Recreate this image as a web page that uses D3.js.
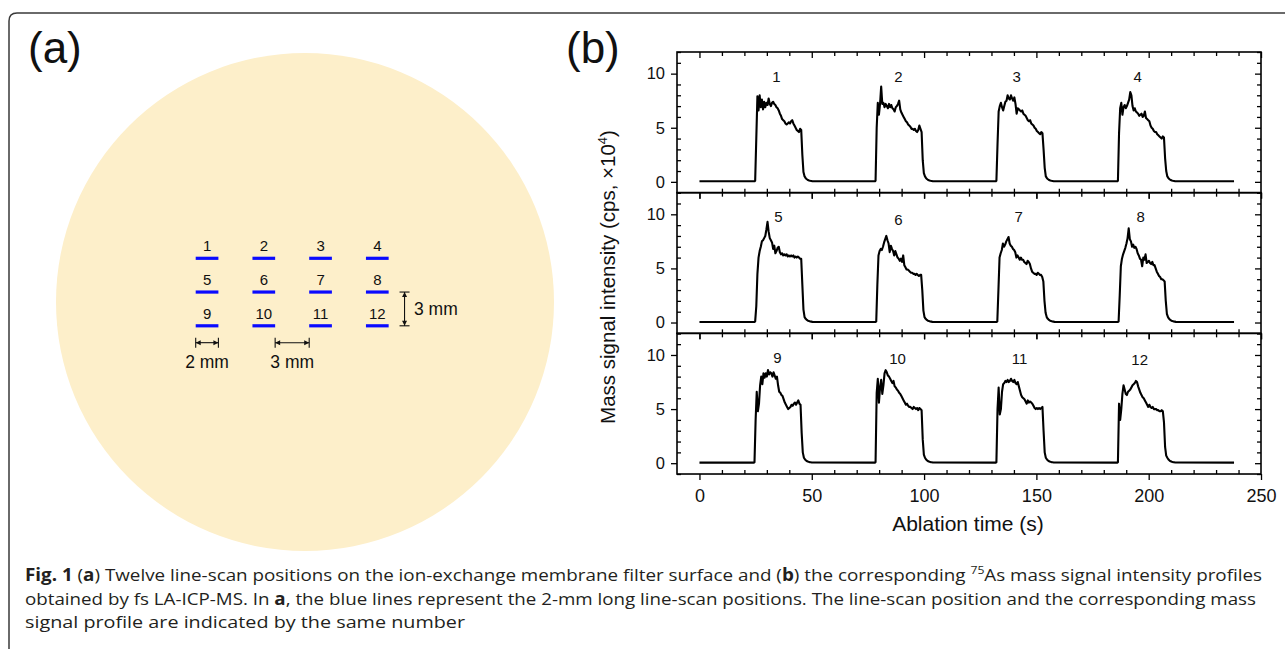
<!DOCTYPE html>
<html><head><meta charset="utf-8">
<script src="https://cdn.jsdelivr.net/npm/d3@7"></script>
<style>body{margin:0;background:#fff}svg{display:block}</style>
</head><body>
<svg id="chart" width="1285" height="649"></svg>
<script>
// ---------------- data ----------------
const peakStarts = [[24.8, 78.4, 132.2, 186.3], [24.8, 78.7, 132.6, 186.6], [24.5, 78.4, 132.2, 186.3]];
const sampleStep = 0.5;   // s between listed values
const peak1 = [0.1,4.0,7.9,6.6,8.0,6.9,7.6,6.7,7.4,6.9,7.3,7.1,7.7,7.2,7.0,7.3,7.4,7.2,7.1,6.9,6.8,6.6,6.3,6.1,5.8,5.7,5.6,5.4,5.3,5.4,5.5,5.4,5.6,5.7,5.4,5.2,5.0,4.8,4.7,4.6,4.9,4.8,2.5,0.9];
const peak2 = [0.1,5.0,7.3,6.2,7.2,8.8,7.2,7.3,6.9,7.2,7.0,6.8,7.2,6.9,7.1,6.8,6.7,6.5,6.9,7.0,7.2,7.5,6.7,6.4,6.2,6.0,5.8,5.6,5.5,5.3,5.2,5.1,4.9,4.9,4.8,4.9,4.7,4.6,4.8,5.2,4.9,4.6,2.0,0.8];
const peak3 = [0.1,3.5,6.5,7.0,7.3,6.9,6.6,7.0,7.4,7.5,8.0,7.7,7.6,8.0,7.7,7.5,7.8,7.2,6.3,6.8,6.7,6.6,6.5,6.6,6.3,6.2,6.1,5.9,5.7,5.6,5.7,5.4,5.3,5.2,5.0,4.9,4.7,4.6,4.5,4.4,4.6,4.5,3.0,1.3];
const peak4 = [0.1,4.5,6.8,7.3,6.2,6.9,7.1,6.8,7.0,7.3,7.6,8.3,8.0,7.0,6.6,6.8,6.5,6.4,6.3,6.1,6.2,6.3,6.0,6.1,6.5,5.9,5.8,5.7,5.6,5.2,5.0,4.9,4.7,4.6,4.6,4.4,4.3,4.2,4.1,4.0,4.2,4.1,2.2,1.0];
const peak5 = [0.1,1.5,4.5,6.0,6.6,7.0,7.5,7.6,7.8,8.0,8.6,9.3,8.4,7.8,7.6,7.4,6.8,7.1,6.4,6.6,6.9,7.0,6.5,6.3,6.4,6.2,6.3,6.2,6.3,6.1,6.2,6.1,6.2,6.1,6.2,6.0,6.1,6.0,6.1,6.0,5.9,5.9,3.5,1.2];
const peak6 = [0.1,3.5,6.2,6.6,6.8,6.7,7.0,7.4,7.7,8.0,7.6,7.3,6.5,7.1,6.8,6.6,6.2,6.6,6.3,6.0,5.9,5.7,5.9,5.6,6.2,5.3,5.1,4.9,4.9,4.8,4.7,4.6,4.6,4.5,4.5,4.4,4.5,4.4,4.3,4.4,4.4,3.0,1.1];
const peak7 = [0.1,3.0,6.0,6.4,6.7,7.3,7.0,7.2,7.5,7.7,7.9,7.3,7.1,7.0,6.8,6.7,6.5,6.0,6.2,6.0,5.8,6.0,5.8,5.8,5.6,5.5,5.4,5.7,5.6,5.4,5.0,4.7,4.6,4.5,4.5,4.4,4.6,4.5,4.4,4.4,4.2,3.8,2.0,0.9];
const peak8 = [0.1,2.5,5.2,5.9,6.3,6.6,6.9,7.3,7.8,8.7,7.7,7.5,7.0,7.2,6.9,7.0,6.8,6.4,6.2,5.9,5.8,5.2,6.0,5.8,6.3,5.5,5.6,5.7,5.5,5.4,5.6,5.3,5.3,5.0,4.7,4.5,4.3,4.2,4.0,4.0,3.9,3.8,2.0,0.8];
const peak9 = [0.1,4.0,6.6,4.8,5.5,7.2,8.0,7.3,8.3,7.9,8.3,8.0,8.6,8.2,8.4,8.3,8.0,8.4,8.1,7.8,8.0,7.2,6.6,6.5,6.3,6.2,5.9,5.6,5.4,5.2,5.0,5.1,5.2,5.4,5.3,5.5,5.6,5.4,5.6,5.8,5.5,5.4,2.8,1.0];
const peak10 = [0.1,6.5,7.8,5.6,7.0,7.7,6.4,7.2,8.3,8.6,8.4,8.1,8.0,7.8,7.6,7.4,7.6,7.1,7.0,6.8,6.7,6.5,6.4,6.2,6.0,5.8,5.6,5.4,5.5,5.3,5.2,5.2,5.1,5.0,5.2,5.1,5.0,5.1,4.9,5.1,5.0,4.9,2.2,0.8];
const peak11 = [0.1,5.0,7.0,4.5,5.0,6.6,7.3,7.4,7.6,7.5,7.7,7.5,7.6,7.8,7.6,7.5,7.7,7.4,7.3,7.5,7.1,6.7,6.3,6.1,6.0,5.9,5.7,5.5,5.8,5.6,5.7,5.6,5.5,5.3,5.1,5.0,5.1,5.0,5.1,5.0,5.1,5.2,3.0,1.0];
const peak12 = [0.1,5.5,4.0,5.0,6.4,7.2,6.8,6.4,6.3,6.6,6.7,6.8,7.0,7.2,7.3,7.4,7.6,7.5,7.1,6.8,6.5,6.3,6.1,6.0,5.8,5.6,5.4,5.2,5.4,5.2,5.1,5.2,5.0,5.0,5.0,4.9,4.9,4.8,4.8,4.9,4.8,3.8,1.5,0.7];
const tailValues = [0.5, 0.34, 0.24, 0.17, 0.13, 0.1, 0.08, 0.06];
const baselineValue = 0.05;
const scanEnd = 238;
const xMajorTicks = [0, 50, 100, 150, 200, 250];
const yMajorTicks = [0, 5, 10];
const peakLabels = [["1","2","3","4"], ["5","6","7","8"], ["9","10","11","12"]];
const labelTimes = [[34.3, 88.6, 141.2, 195.1], [35.2, 88.6, 142.1, 196.4], [34.7, 88.2, 142.5, 196.0]];
const labelLevels = [[9.2, 9.2, 9.2, 9.2], [9.3, 9.05, 9.3, 9.3], [9.3, 9.2, 9.2, 9.1]];
// panel (a): line-scan layout in mm
const scanCols = [0, 5, 10, 15];
const scanRows = [0, 3, 6];
const scanLength = 2;
const scanNumbers = ["1","2","3","4","5","6","7","8","9","10","11","12"];
const captionLines = [
  [["b","Fig. 1"],["n"," ("],["b","a"],["n",") Twelve line-scan positions on the ion-exchange membrane filter surface and ("],["b","b"],["n",") the corresponding "],["s","75"],["n","As mass signal intensity profiles"]],
  [["n","obtained by fs LA-ICP-MS. In "],["b","a"],["n",", the blue lines represent the 2-mm long line-scan positions. The line-scan position and the corresponding mass"]],
  [["n","signal profile are indicated by the same number"]]
];

const profiles = [[peak1, peak2, peak3, peak4], [peak5, peak6, peak7, peak8], [peak9, peak10, peak11, peak12]];

// ---------------- drawing ----------------
const svg = d3.select("#chart");
const FONT = "'Liberation Sans', Arial, sans-serif";

// outer frame
svg.append("path")
  .attr("d", "M9,652 V21 Q9,13 17,13 H1290")
  .attr("fill", "none").attr("stroke", "#3a3a3a").attr("stroke-width", 1.5);

// ---- panel (a)
svg.append("circle").attr("cx", 305).attr("cy", 302).attr("r", 249).attr("fill", "#fdefca");
svg.append("text").attr("x", 28).attr("y", 63).attr("font-family", FONT).attr("font-size", 44).attr("fill", "#111").text("(a)");

const mmX = d3.scaleLinear().domain([0, 1]).range([195.7, 207.05]);
const mmY = d3.scaleLinear().domain([0, 1]).range([258.3, 269.55]);
const scans = [];
scanRows.forEach((r, ri) => scanCols.forEach((c, ci) => scans.push({r, c, n: scanNumbers[ri * 4 + ci]})));
const ga = svg.append("g");
ga.selectAll("line.scan").data(scans).join("line").attr("class", "scan")
  .attr("x1", d => mmX(d.c)).attr("x2", d => mmX(d.c + scanLength))
  .attr("y1", d => mmY(d.r)).attr("y2", d => mmY(d.r))
  .attr("stroke", "#0a0aff").attr("stroke-width", 3.2);
ga.selectAll("text.num").data(scans).join("text").attr("class", "num")
  .attr("x", d => mmX(d.c + scanLength / 2)).attr("y", d => mmY(d.r) - 7)
  .attr("text-anchor", "middle").attr("font-family", FONT).attr("font-size", 15).attr("fill", "#111")
  .text(d => d.n);

// dimension markers
function dimH(x1, x2, y) {
  const g = ga.append("g").attr("stroke", "#111").attr("stroke-width", 1.1).attr("fill", "#111");
  g.append("line").attr("x1", x1).attr("x2", x2).attr("y1", y).attr("y2", y);
  g.append("line").attr("x1", x1).attr("x2", x1).attr("y1", y - 5).attr("y2", y + 5);
  g.append("line").attr("x1", x2).attr("x2", x2).attr("y1", y - 5).attr("y2", y + 5);
  g.append("path").attr("stroke", "none").attr("d", `M${x1},${y} l5,-2.5 v5 z M${x2},${y} l-5,-2.5 v5 z`);
}
function dimV(x, y1, y2) {
  const g = ga.append("g").attr("stroke", "#111").attr("stroke-width", 1.1).attr("fill", "#111");
  g.append("line").attr("x1", x).attr("x2", x).attr("y1", y1).attr("y2", y2);
  g.append("line").attr("x1", x - 5).attr("x2", x + 5).attr("y1", y1).attr("y2", y1);
  g.append("line").attr("x1", x - 5).attr("x2", x + 5).attr("y1", y2).attr("y2", y2);
  g.append("path").attr("stroke", "none").attr("d", `M${x},${y1} l-2.5,5 h5 z M${x},${y2} l-2.5,-5 h5 z`);
}
const dimY = mmY(7.5);
dimH(mmX(0), mmX(2), dimY);
dimH(mmX(7), mmX(10), dimY);
dimV(mmX(18.4), mmY(3), mmY(6));
ga.append("text").attr("x", mmX(1)).attr("y", 368).attr("text-anchor", "middle")
  .attr("font-family", FONT).attr("font-size", 17.5).attr("fill", "#111").text("2 mm");
ga.append("text").attr("x", mmX(8.5)).attr("y", 368).attr("text-anchor", "middle")
  .attr("font-family", FONT).attr("font-size", 17.5).attr("fill", "#111").text("3 mm");
ga.append("text").attr("x", 414).attr("y", 315)
  .attr("font-family", FONT).attr("font-size", 17.5).attr("fill", "#111").text("3 mm");

// ---- panel (b)
svg.append("text").attr("x", 566).attr("y", 63).attr("font-family", FONT).attr("font-size", 44).attr("fill", "#111").text("(b)");

const left = 677, right = 1261, top0 = 52, panelH = 140.67;
const x = d3.scaleLinear().domain([-10, 250]).range([left, right]);
const minorX = d3.range(0, 241, 10).filter(v => v % 50 !== 0);
const minorY = d3.range(-1, 13, 1).filter(v => v % 5 !== 0);

profiles.forEach((row, p) => {
  const y0 = top0 + p * panelH, y1 = y0 + panelH;
  const y = d3.scaleLinear().domain([-1, 12]).range([y1, y0]);
  const g = svg.append("g");

  // signal trace
  const pts = [[0, baselineValue]];
  row.forEach((vals, k) => {
    const s = peakStarts[p][k];
    pts.push([s - 0.3, baselineValue]);
    vals.concat(tailValues).forEach((v, i) => pts.push([s + i * sampleStep, v]));
  });
  pts.push([scanEnd, baselineValue]);
  g.append("path").datum(pts)
    .attr("d", d3.line().x(d => x(d[0])).y(d => y(d[1])))
    .attr("fill", "none").attr("stroke", "#000").attr("stroke-width", 2.1).attr("stroke-linejoin", "round");

  // labels over peaks
  peakLabels[p].forEach((lab, k) => {
    g.append("text").attr("x", x(labelTimes[p][k])).attr("y", y(labelLevels[p][k]))
      .attr("text-anchor", "middle").attr("font-family", FONT).attr("font-size", 15).attr("fill", "#111").text(lab);
  });

  const style = sel => { sel.select(".domain").remove(); sel.selectAll("line").attr("stroke", "#000").attr("stroke-width", 1.3); };
  // top axis (inward)
  g.append("g").attr("transform", `translate(0,${y0})`).call(d3.axisTop(x).tickValues(xMajorTicks).tickSize(-6).tickFormat("")).call(style);
  g.append("g").attr("transform", `translate(0,${y0})`).call(d3.axisTop(x).tickValues(minorX).tickSize(-4).tickFormat("")).call(style);
  // bottom axis
  const bottom = g.append("g").attr("transform", `translate(0,${y1})`)
    .call(d3.axisBottom(x).tickValues(xMajorTicks).tickSize(6).tickPadding(9).tickFormat(p === 2 ? d3.format("d") : ""));
  bottom.call(style);
  bottom.selectAll("text").attr("font-family", FONT).attr("font-size", 18).attr("fill", "#111");
  g.append("g").attr("transform", `translate(0,${y1})`).call(d3.axisBottom(x).tickValues(minorX).tickSize(-4).tickFormat("")).call(style);
  // left axis
  const la = g.append("g").attr("transform", `translate(${left},0)`)
    .call(d3.axisLeft(y).tickValues(yMajorTicks).tickSize(6).tickPadding(6).tickFormat(d3.format("d")));
  la.call(style);
  la.selectAll("text").attr("font-family", FONT).attr("font-size", 16.5).attr("fill", "#111");
  g.append("g").attr("transform", `translate(${left},0)`).call(d3.axisLeft(y).tickValues(minorY).tickSize(-4).tickFormat("")).call(style);
  // right axis (inward)
  g.append("g").attr("transform", `translate(${right},0)`).call(d3.axisRight(y).tickValues(yMajorTicks).tickSize(-6).tickFormat("")).call(style);
  g.append("g").attr("transform", `translate(${right},0)`).call(d3.axisRight(y).tickValues(minorY).tickSize(-4).tickFormat("")).call(style);

  // frame
  g.append("rect").attr("x", left).attr("y", y0).attr("width", right - left).attr("height", panelH)
    .attr("fill", "none").attr("stroke", "#000").attr("stroke-width", 1.6);
});

// axis titles
svg.append("text").attr("x", 968).attr("y", 531).attr("text-anchor", "middle")
  .attr("font-family", FONT).attr("font-size", 21).attr("fill", "#111").text("Ablation time (s)");
const yl = svg.append("text").attr("transform", "translate(615,277) rotate(-90)").attr("text-anchor", "middle")
  .attr("font-family", FONT).attr("font-size", 20.5).attr("fill", "#111");
yl.append("tspan").text("Mass signal intensity (cps, \u00d710");
yl.append("tspan").attr("dy", -8).attr("font-size", 13).text("4");
yl.append("tspan").attr("dy", 8).text(")");

// caption
const capEnds = [1262, 1256, 465];
captionLines.forEach((line, i) => {
  const t = svg.append("text").attr("x", 25).attr("y", 581 + i * 23.5)
    .attr("font-family", "'Open Sans', sans-serif").attr("font-size", 17).attr("fill", "#231f20")
    .attr("textLength", capEnds[i] - 25).attr("lengthAdjust", "spacingAndGlyphs");
  line.forEach(([kind, s]) => {
    const ts = t.append("tspan").text(s);
    if (kind === "b") ts.attr("font-weight", "bold");
    if (kind === "s") { ts.attr("font-size", 11).attr("dy", -7); }
    if (kind === "n" && i === 0 && s.startsWith("As")) ts.attr("dy", 7);
  });
});
</script>
</body></html>
